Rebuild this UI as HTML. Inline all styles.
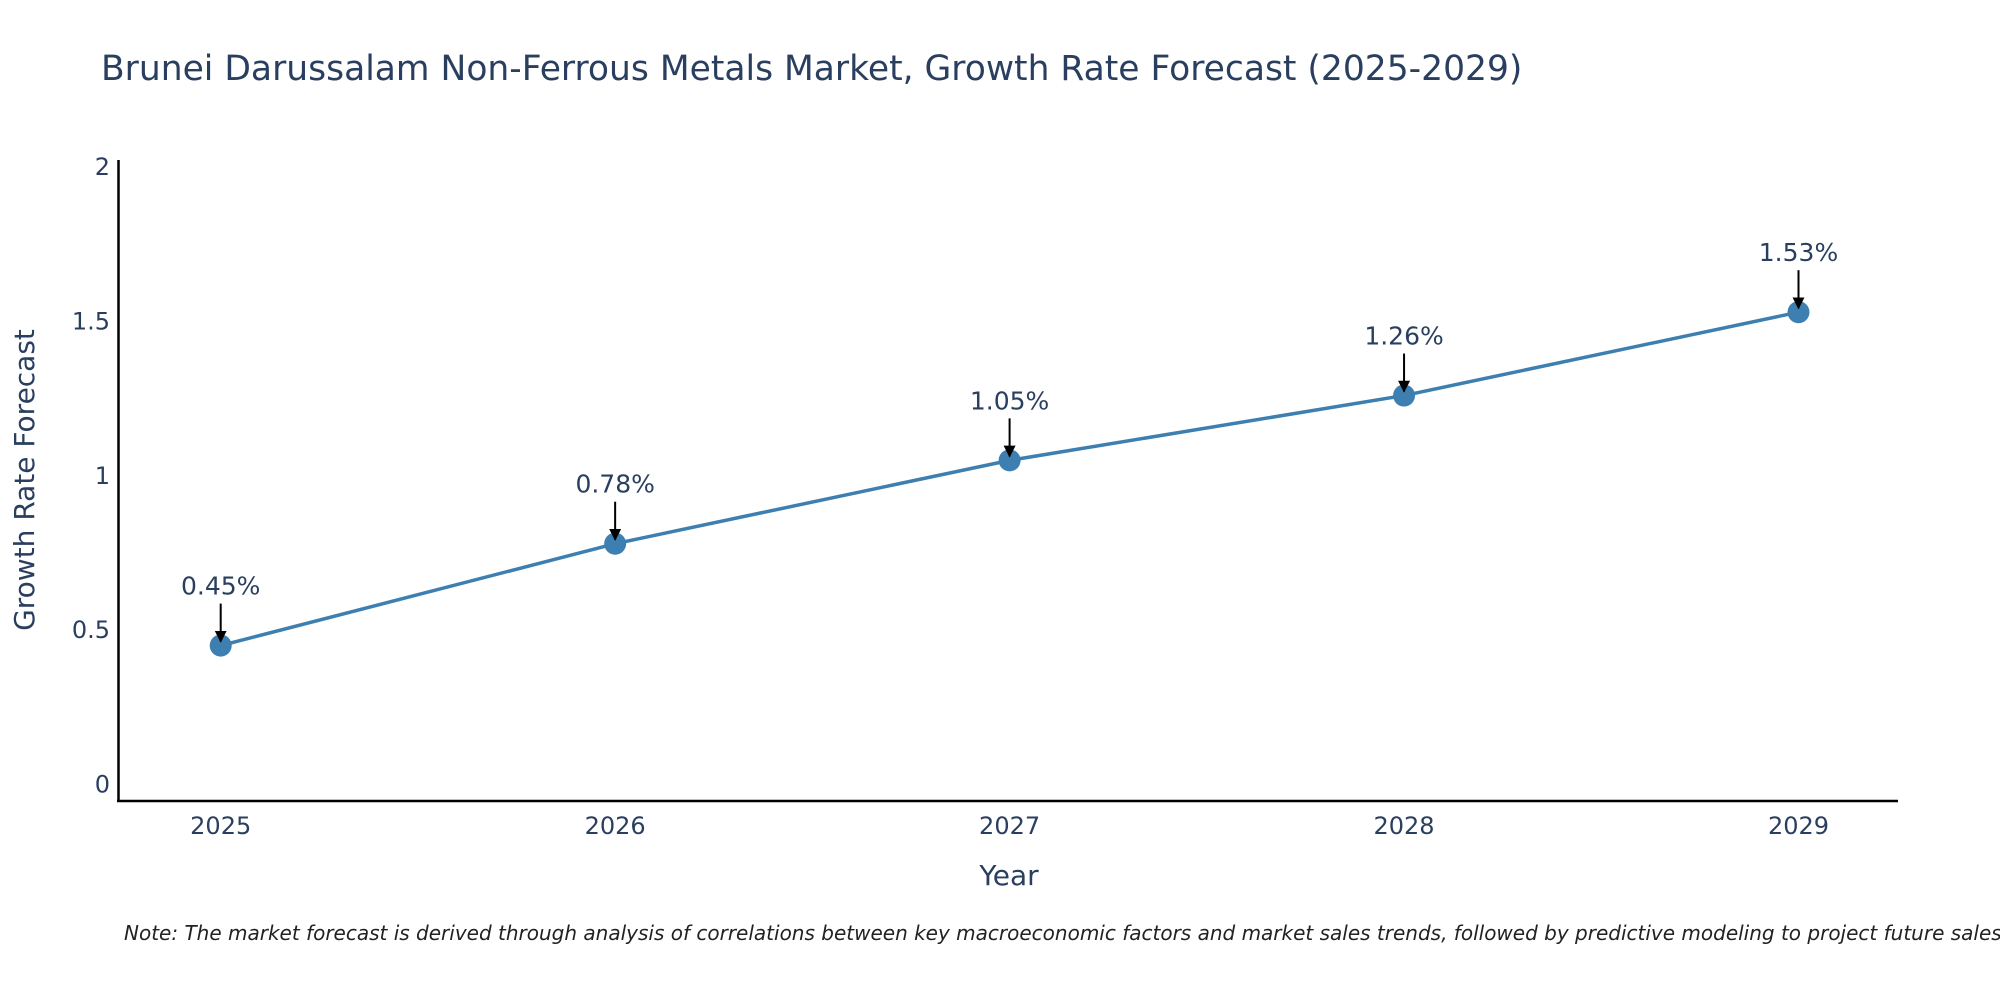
<!DOCTYPE html>
<html><head><meta charset="utf-8"><style>
body{margin:0;background:#fff}
svg text{font-family:"DejaVu Sans","Liberation Sans",sans-serif;fill:#2a3f5f}
</style></head><body>
<svg width="2000" height="1000" viewBox="0 0 2000 1000">
<defs><marker id="ah" viewBox="0 0 10 10" refX="9" refY="5" markerWidth="12" markerHeight="12" markerUnits="userSpaceOnUse" orient="auto"><path d="M0,0L10,5L0,10z" fill="#000"/></marker></defs>
<text x="101" y="80" font-size="34.5">Brunei Darussalam Non-Ferrous Metals Market, Growth Rate Forecast (2025-2029)</text>
<g id="yt"></g><g id="xt"></g>
<line x1="118.5" y1="160" x2="118.5" y2="802" stroke="#000" stroke-width="2.5"/>
<line x1="117" y1="801" x2="1898" y2="801" stroke="#000" stroke-width="2.5"/>
<text transform="translate(34,480) rotate(-90)" text-anchor="middle" font-size="28">Growth Rate Forecast</text>
<text x="1009" y="885" text-anchor="middle" font-size="28">Year</text>
<g id="plot"></g>
<text x="124" y="940" font-size="20" font-style="italic" style="fill:#222">Note: The market forecast is derived through analysis of correlations between key macroeconomic factors and market sales trends, followed by predictive modeling to project future sales.</text>
</svg>
<script>
const years=[2025,2026,2027,2028,2029];
const values=[0.45,0.78,1.05,1.26,1.53];
const labels=["0.45%","0.78%","1.05%","1.26%","1.53%"];
const yTicks=[0,0.5,1,1.5,2];
const yTickLabels=["0","0.5","1","1.5","2"];
const NS="http://www.w3.org/2000/svg";
const xs=y=>220.7+(y-2025)*(1798.5-220.7)/4;
const ys=v=>784.5-v*308.7;
function mk(t,a,p){const e=document.createElementNS(NS,t);for(const k in a)e.setAttribute(k,a[k]);p.appendChild(e);return e;}
const yt=document.getElementById('yt'),xt=document.getElementById('xt'),pl=document.getElementById('plot');
yTicks.forEach((v,i)=>{const t=mk('text',{x:110,y:ys(v)+8,'text-anchor':'end','font-size':24},yt);t.textContent=yTickLabels[i];

});
years.forEach(y=>{const t=mk('text',{x:xs(y),y:834,'text-anchor':'middle','font-size':24},xt);t.textContent=y;

});
const line=mk('polyline',{points:years.map((y,i)=>xs(y)+','+ys(values[i])).join(' '),fill:'none',stroke:'#3d7fb0','stroke-width':3.5},pl);


years.forEach((y,i)=>{const cx=xs(y),cy=ys(values[i]);
const c=mk('circle',{cx:cx,cy:cy,r:11,fill:'#3d7fb0'},pl);


const a=mk('line',{x1:cx,y1:cy-42,x2:cx,y2:cy-4,stroke:'#000','stroke-width':2,'marker-end':'url(#ah)'},pl);


const t=mk('text',{x:cx,y:cy-51,'text-anchor':'middle','font-size':25},pl);t.textContent=labels[i];

});
</script>
</body></html>
